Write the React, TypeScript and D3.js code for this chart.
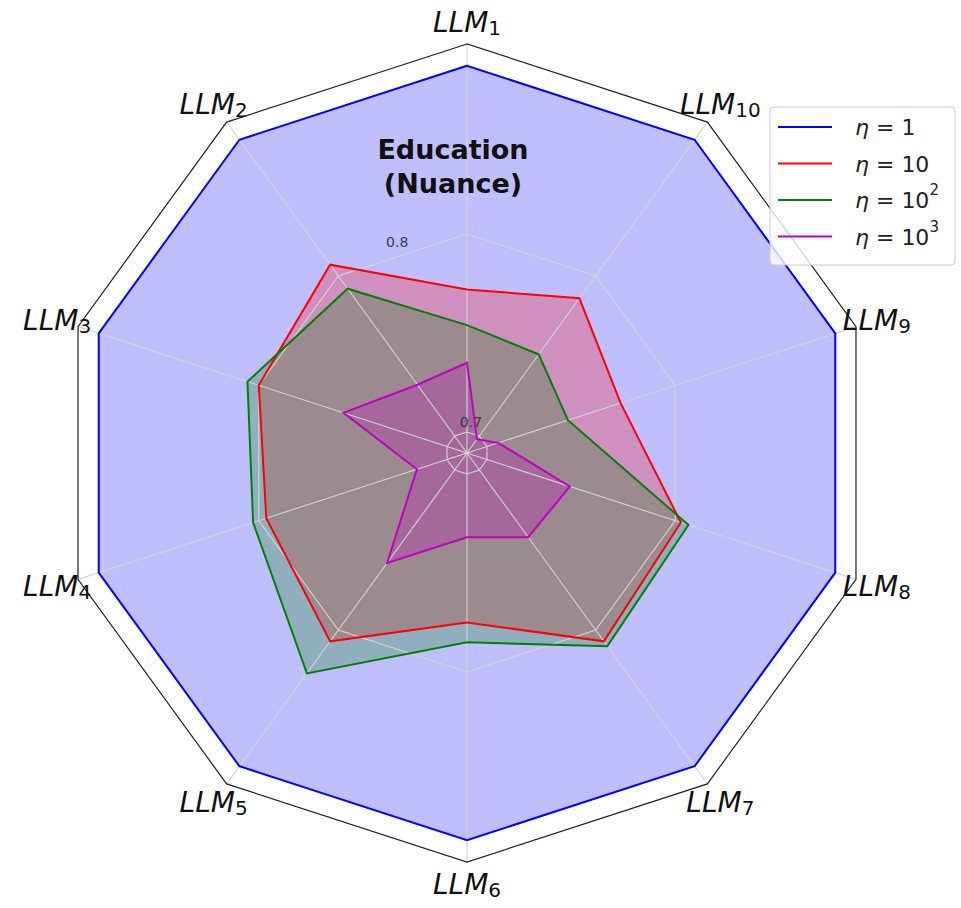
import React from "react";
import * as d3 from "d3";

const categories = ["1", "2", "3", "4", "5", "6", "7", "8", "9", "10"];
const seriesNames = ["1", "10", "10²", "10³"];
const etaBase = ["1", "10", "10", "10"];
const etaSup = ["", "", "2", "3"];
const eta1 = [0.885, 0.885, 0.885, 0.885, 0.885, 0.885, 0.885, 0.885, 0.885, 0.885];
const eta10 = [0.772, 0.807, 0.8, 0.796, 0.807, 0.775, 0.807, 0.803, 0.771, 0.786];
const eta100 = [0.754, 0.792, 0.806, 0.803, 0.827, 0.785, 0.81, 0.807, 0.743, 0.751];
const eta1000 = [0.735, 0.732, 0.755, 0.716, 0.758, 0.732, 0.742, 0.744, 0.706, 0.698];
const gridTicks = [0.7, 0.8];
const tickLabels = ["0.7", "0.8"];
const colors = ["#0000ff", "#ff0000", "#008000", "#bf00bf"];
const titleLines = ["Education", "(Nuance)"];

const W = 961;
const H = 908;
const cx = 467;
const cy = 453;
const rMin = 0.6894;
const rMax = 0.896;

export default function App() {
  const rs = d3.scaleLinear().domain([rMin, rMax]).range([0, 409]);
  const n = categories.length;
  const ang = d3.scaleLinear().domain([0, n]).range([0, 2 * Math.PI]);
  // angle 0 at top, counter-clockwise
  const pt = (i: number, r: number): [number, number] => {
    const a = ang(i);
    return [cx - r * Math.sin(a), cy - r * Math.cos(a)];
  };
  const series = [eta1, eta10, eta100, eta1000];
  const polyPath = (vals: number[]) =>
    d3.line()(vals.map((v, i) => pt(i, rs(v))))! + "Z";
  const ringPath = (v: number) =>
    d3.line()(categories.map((_, i) => pt(i, rs(v))))! + "Z";

  const font = "DejaVu Sans, sans-serif";
  const labelR = 431;

  return (
    <svg
      width={W}
      height={H}
      style={{ position: "absolute", left: 0, top: 0, background: "#fff" }}
    >
      {/* fills */}
      {series.map((s, k) => (
        <path key={"f" + k} d={polyPath(s)} fill={colors[k]} fillOpacity={0.25} stroke="none" />
      ))}
      {/* grid */}
      {gridTicks.map((t, k) => (
        <path key={"g" + k} d={ringPath(t)} fill="none" stroke="#d4d4d4" strokeWidth={1.1} />
      ))}
      {categories.map((_, i) => {
        const [x, y] = pt(i, rs(rMax));
        return <line key={"s" + i} x1={cx} y1={cy} x2={x} y2={y} stroke="#d4d4d4" strokeWidth={1.1} />;
      })}
      {/* frame */}
      <path d={ringPath(rMax)} fill="none" stroke="#222" strokeWidth={1.2} />
      {/* lines */}
      {series.map((s, k) => (
        <path key={"l" + k} d={polyPath(s)} fill="none" stroke={colors[k]} strokeWidth={2} strokeLinejoin="miter" />
      ))}
      {/* tick labels */}
      <text
        x={cx - (rs(0.8) + 3) * Math.sin(0.32)}
        y={cy - (rs(0.8) + 3) * Math.cos(0.32)}
        fontFamily={font}
        fontSize={14}
        fill="#3a3a5a"
        textAnchor="middle"
        dominantBaseline="central"
      >
        {tickLabels[1]}
      </text>
      <text
        x={cx + 4}
        y={cy - rs(0.7) - 10}
        fontFamily={font}
        fontSize={14}
        fill="#3a3a3a"
        textAnchor="middle"
        dominantBaseline="central"
      >
        {tickLabels[0]}
      </text>
      {/* axis labels */}
      {categories.map((c, i) => {
        const [x, y] = pt(i, labelR);
        return (
          <text
            key={"c" + i}
            x={x}
            y={y}
            fontFamily={font}
            fontSize={28}
            textAnchor="middle"
            dominantBaseline="central"
            fill="#111"
          >
            <tspan fontStyle="italic">LLM</tspan>
            <tspan fontSize={20} dy={6}>{c}</tspan>
          </text>
        );
      })}
      {/* title */}
      {titleLines.map((t, i) => (
        <text
          key={"t" + i}
          x={453}
          y={159 + i * 34}
          fontFamily={font}
          fontWeight="bold"
          fontSize={27}
          textAnchor="middle"
          fill="#111"
        >
          {t}
        </text>
      ))}
      {/* legend */}
      <rect x={770} y={107} width={185} height={158} rx={4} fill="#fff" fillOpacity={0.8} stroke="#ccc" />
      {seriesNames.map((s, k) => {
        const y = 127 + k * 36.5;
        return (
          <g key={"lg" + k}>
            <line x1={778} x2={832} y1={y} y2={y} stroke={colors[k]} strokeWidth={2} />
            <text x={855} y={y} fontFamily={font} fontSize={22} dominantBaseline="central" fill="#222">
              <tspan fontStyle="italic">η</tspan>
              <tspan> = {etaBase[k]}</tspan>
              {etaSup[k] && (
                <tspan fontSize={15} dy={-10}>{etaSup[k]}</tspan>
              )}
            </text>
          </g>
        );
      })}
    </svg>
  );
}
